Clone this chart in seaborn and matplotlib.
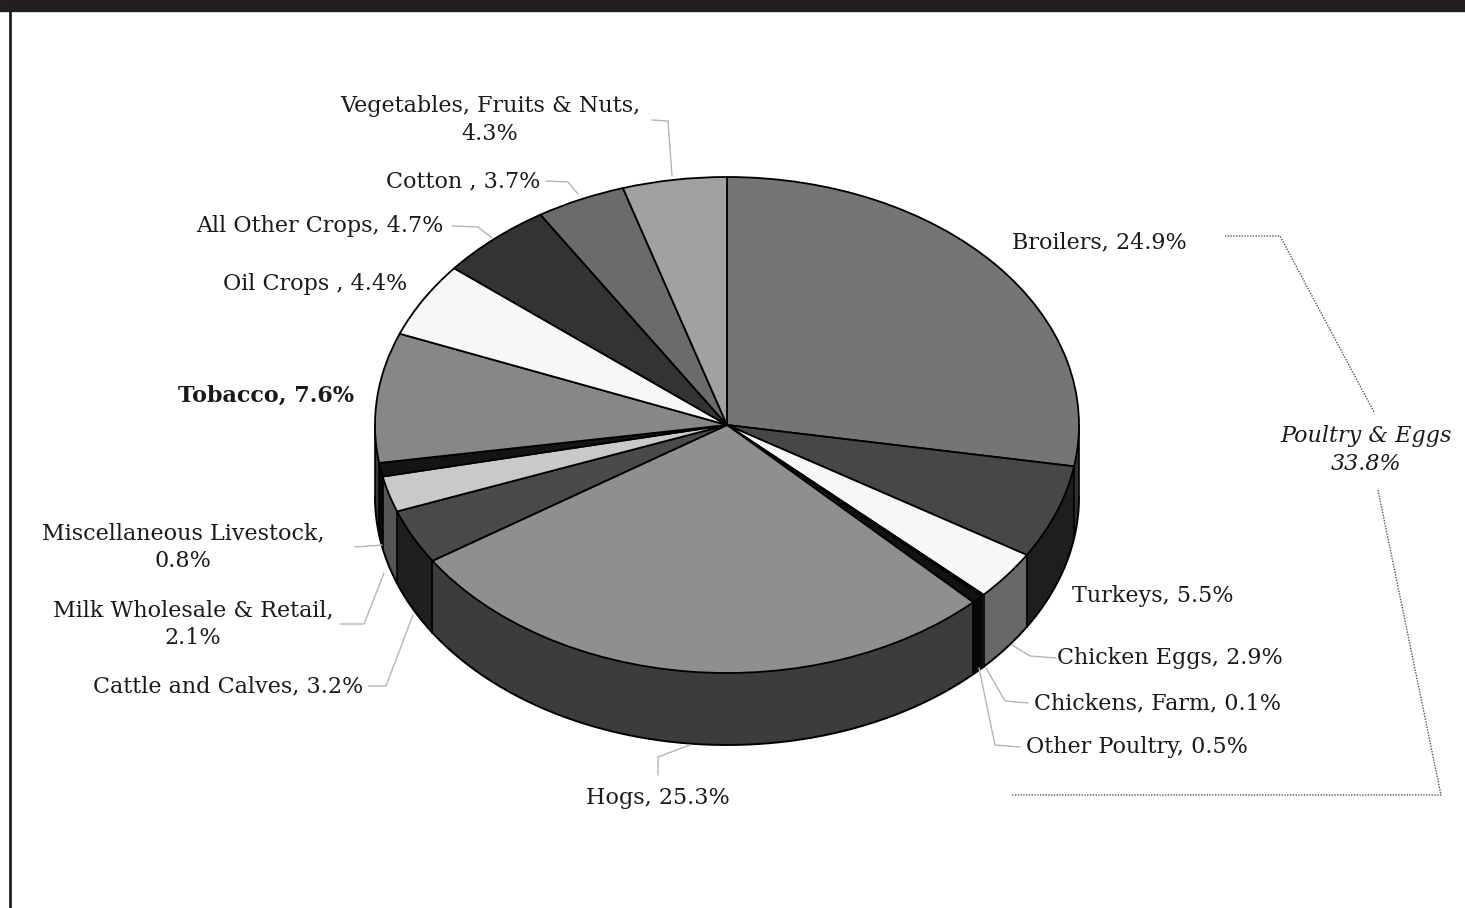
import numpy as np
import matplotlib
matplotlib.use("Agg")
import matplotlib.pyplot as plt
import seaborn as sns

sns.set_theme(style="white")
plt.rcParams['font.family'] = ['DejaVu Serif']

# --- data (clockwise from 12 o'clock) ---
categories = ["Broilers", "Turkeys", "Chicken Eggs", "Chickens, Farm", "Other Poultry",
              "Hogs", "Cattle and Calves", "Milk Wholesale & Retail", "Miscellaneous Livestock",
              "Tobacco", "Oil Crops", "All Other Crops", "Cotton", "Vegetables, Fruits & Nuts"]
shares = [24.9, 5.5, 2.9, 0.1, 0.5, 25.3, 3.2, 2.1, 0.8, 7.6, 4.4, 4.7, 3.7, 4.3]
top_grays = [0.46, 0.28, 0.97, 0.85, 0.07, 0.56, 0.29, 0.79, 0.08, 0.53, 0.97, 0.2, 0.42, 0.63]
labels = ["Broilers, 24.9%", "Turkeys, 5.5%", "Chicken Eggs, 2.9%", "Chickens, Farm, 0.1%",
          "Other Poultry, 0.5%", "Hogs, 25.3%", "Cattle and Calves, 3.2%",
          "Milk Wholesale & Retail,\n2.1%", "Miscellaneous Livestock,\n0.8%", "Tobacco, 7.6%",
          "Oil Crops , 4.4%", "All Other Crops, 4.7%", "Cotton , 3.7%",
          "Vegetables, Fruits & Nuts,\n4.3%"]
group_label = "Poultry & Eggs\n33.8%"

# label placement in image pixels (x, y from top)
label_pos = [(1099, 242), (1153, 596), (1170, 658), (1157, 703), (1137, 747),
             (658, 798), (228, 686), (193, 624), (183, 547), (266, 396),
             (315, 284), (320, 226), (463, 181), (490, 120)]
leaders = {
    "Chicken Eggs": [(1056, 658), (1030, 656), (1012, 645)],
    "Chickens, Farm": [(1028, 703), (1005, 701), (986, 668)],
    "Other Poultry": [(1020, 747), (995, 745), (979, 668)],
    "Hogs": [(658, 775), (658, 757), (690, 745)],
    "Cattle and Calves": [(368, 686), (386, 686), (413, 615)],
    "Milk Wholesale & Retail": [(340, 624), (364, 624), (384, 573)],
    "Miscellaneous Livestock": [(355, 547), (382, 545)],
    "All Other Crops": [(452, 226), (478, 227), (492, 238)],
    "Cotton": [(546, 181), (568, 182), (578, 194)],
    "Vegetables, Fruits & Nuts": [(652, 120), (668, 121), (672, 176)],
}
bracket = [(1225, 236), (1280, 236), (1374, 412)]
bracket_low = [(1378, 490), (1441, 795), (1012, 795)]

W, H = 1465, 908
CX, CY, RX, RY = 727, 425, 352, 248
DEPTH = 72 / RY


def to_data(px, py):
    return (px - CX) / RX, (CY - py) / RY


fig = plt.figure(figsize=(W / 100, H / 100), dpi=100)
ax = fig.add_axes([0, 0, 1, 1])

top_colors = [str(g) for g in top_grays]
side_colors = [str(round(g * 0.42, 3)) for g in top_grays]

# side walls: stack of pies shifted downwards
for d in np.linspace(DEPTH, 0, 80):
    ax.pie(shares, colors=side_colors, startangle=90, counterclock=False,
           center=(0, -d), radius=1, wedgeprops=dict(linewidth=0, zorder=1))

# outlines of the side wall
t = np.linspace(np.pi, 2 * np.pi, 300)
ax.plot(np.cos(t), np.sin(t) - DEPTH, color="black", lw=1.4, zorder=2)
bounds = 90 - np.concatenate([[0], np.cumsum(shares)]) / sum(shares) * 360
for a in list(np.deg2rad(bounds)) + [np.pi, 0.0]:
    if np.sin(a) < 0 or np.isclose(np.sin(a), 0):
        ax.plot([np.cos(a), np.cos(a)], [np.sin(a), np.sin(a) - DEPTH],
                color="black", lw=1.2, zorder=2)

# top face
ax.pie(shares, colors=top_colors, startangle=90, counterclock=False,
       center=(0, 0), radius=1,
       wedgeprops=dict(edgecolor="black", linewidth=1.3, zorder=3))

ax.set_xlim(to_data(0, 0)[0], to_data(W, 0)[0])
ax.set_ylim(to_data(0, H)[1], to_data(0, 0)[1])
ax.set_aspect("auto")
ax.axis("off")

# labels
for cat, lab, (px, py) in zip(categories, labels, label_pos):
    x, y = to_data(px, py)
    weight = "bold" if cat == "Tobacco" else "normal"
    ax.text(x, y, lab, ha="center", va="center", fontsize=16, color="#1a1a1a",
            fontweight=weight, linespacing=1.35, zorder=5)
    if cat in leaders:
        pts = np.array([to_data(*p) for p in leaders[cat]])
        ax.plot(pts[:, 0], pts[:, 1], color="#b5b5b5", lw=1, zorder=4)

x, y = to_data(1366, 450)
ax.text(x, y, group_label, ha="center", va="center", fontsize=16, style="italic",
        color="#1a1a1a", linespacing=1.35)
for seg in (bracket, bracket_low):
    pts = np.array([to_data(*p) for p in seg])
    ax.plot(pts[:, 0], pts[:, 1], color="#555555", lw=1, ls=(0, (1, 1)))

# frame: black band on top, thin line on the left
fig.add_artist(plt.Rectangle((0, 1 - 11 / H), 1, 11 / H, transform=fig.transFigure,
                             color="#231f20", zorder=10))
fig.add_artist(plt.Line2D([10 / W, 10 / W], [0, 1], transform=fig.transFigure,
                          color="#231f20", lw=2, zorder=10))

fig.savefig("out.png", dpi=100)
